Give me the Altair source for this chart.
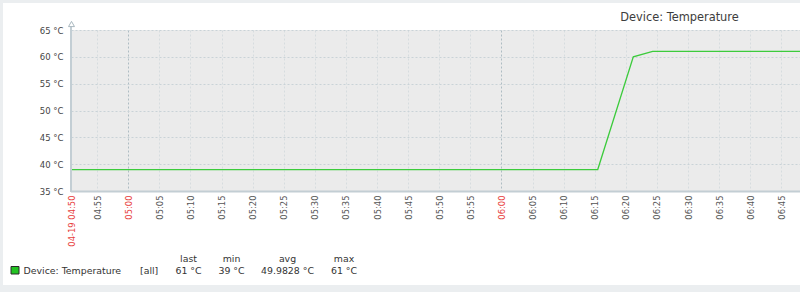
import altair as alt
import pandas as pd

# ---- data ----
times = ["04:50:48", "06:15:29", "06:21:12", "06:24:19", "06:48:00"]
temps = [39, 39, 60, 61, 61]

tick_times = ["04:50:48", "04:55", "05:00", "05:05", "05:10", "05:15", "05:20", "05:25",
              "05:30", "05:35", "05:40", "05:45", "05:50", "05:55", "06:00", "06:05",
              "06:10", "06:15", "06:20", "06:25", "06:30", "06:35", "06:40", "06:45"]
tick_labels = ["04-19 04:50", "04:55", "05:00", "05:05", "05:10", "05:15", "05:20", "05:25",
               "05:30", "05:35", "05:40", "05:45", "05:50", "05:55", "06:00", "06:05",
               "06:10", "06:15", "06:20", "06:25", "06:30", "06:35", "06:40", "06:45"]
y_ticks = [35, 40, 45, 50, 55, 60, 65]
x_start, x_end = "04:50:48", "06:48:00"

title_text = "Device: Temperature"
legend_name = "Device: Temperature"
legend_func = "[all]"
stat_names = ["last", "min", "avg", "max"]
stat_values = ["61 °C", "39 °C", "49.9828 °C", "61 °C"]


def to_min(s):
    parts = [float(p) for p in s.split(":")]
    while len(parts) < 3:
        parts.append(0.0)
    return round(parts[0] * 60 + parts[1] + parts[2] / 60, 3)


xs = [to_min(t) for t in times]
tick_vals = [to_min(t) for t in tick_times]
domain = [to_min(x_start), to_min(x_end)]

df = pd.DataFrame({"t": xs, "v": temps})

W, H = 729, 161
FONT = "DejaVu Sans"
RED = "#e8403d"
GRAY_TXT = "#555555"

label_expr = "[" + ",".join("'%s'" % l for l in tick_labels) + "][indexof([" + \
    ",".join(repr(v) for v in tick_vals) + "], datum.value)]"
red_test = "datum.value < %s || datum.value %% 60 == 0" % (tick_vals[0] + 0.5)

x_axis = alt.Axis(
    values=tick_vals, labelExpr=label_expr, labelAngle=270, labelFont=FONT,
    labelFontSize=8.4, labelPadding=4, ticks=False, domain=False,
    labelColor={"condition": {"test": red_test, "value": RED}, "value": GRAY_TXT},
    grid=True,
    gridColor={"condition": {"test": "datum.value % 60 == 0", "value": "#aebcc3"}, "value": "#d6dcdf"},
    gridDash=[2, 2], gridWidth=1, labelOverlap=False, labelBound=False, title=None,
)
y_axis = alt.Axis(
    values=y_ticks, labelExpr="datum.value + ' °C'", labelFont=FONT, labelFontSize=8.5,
    labelColor="#444444", labelPadding=8, ticks=False, domain=False, grid=True,
    gridColor="#c9d2d7", gridDash=[2, 2], title=None,
)

line = alt.Chart(df).mark_line(color="#3ccb3c", strokeWidth=1.3, clip=True).encode(
    x=alt.X("t:Q", scale=alt.Scale(domain=domain, nice=False, zero=False), axis=x_axis),
    y=alt.Y("v:Q", scale=alt.Scale(domain=[35, 65], nice=False, zero=False), axis=y_axis),
)

axis_col = "#c3ced4"
left_axis = alt.Chart().mark_rule(color=axis_col, strokeWidth=2).encode(
    x=alt.value(0), y=alt.value(-4), y2=alt.value(H + 1))
bottom_axis = alt.Chart().mark_rule(color=axis_col, strokeWidth=2).encode(
    x=alt.value(0), x2=alt.value(W), y=alt.value(H + 0.5))
arrow = alt.Chart().mark_point(shape="triangle-up", size=36, filled=True, fill="white",
                               stroke="#a9b8bf", strokeWidth=1, opacity=1).encode(
    x=alt.value(0.5), y=alt.value(-6))

title = alt.Chart().mark_text(font=FONT, fontSize=11.4, color="#3d3d3d", align="center",
                              baseline="alphabetic").encode(
    x=alt.value(608.5), y=alt.value(-9), text=alt.value(title_text))

# gray page border
border_col = "#ebeef0"
borders = [
    alt.Chart().mark_rect(color=border_col).encode(x=alt.value(-71), x2=alt.value(W), y=alt.value(-30), y2=alt.value(-27)),
    alt.Chart().mark_rect(color=border_col).encode(x=alt.value(-71), x2=alt.value(-68), y=alt.value(-30), y2=alt.value(H + 101)),
    alt.Chart().mark_rect(color=border_col).encode(x=alt.value(-71), x2=alt.value(W), y=alt.value(255), y2=alt.value(H + 101)),
]

# legend
legend_layers = [
    alt.Chart().mark_rect(color="#22c322", stroke="#2a2a2a", strokeWidth=1).encode(
        x=alt.value(-60), x2=alt.value(-52), y=alt.value(236.5), y2=alt.value(244)),
    alt.Chart().mark_text(font=FONT, fontSize=9.4, color="#333333", align="left", baseline="alphabetic").encode(
        x=alt.value(-47.5), y=alt.value(244), text=alt.value(legend_name)),
    alt.Chart().mark_text(font=FONT, fontSize=9.4, color="#333333", align="left", baseline="alphabetic").encode(
        x=alt.value(69), y=alt.value(244), text=alt.value(legend_func)),
]
stat_x = [117.5, 160.5, 216.5, 273]
for sx, name, val in zip(stat_x, stat_names, stat_values):
    legend_layers.append(alt.Chart().mark_text(font=FONT, fontSize=9.4, color="#333333", align="center",
                                               baseline="alphabetic").encode(
        x=alt.value(sx), y=alt.value(232), text=alt.value(name)))
    legend_layers.append(alt.Chart().mark_text(font=FONT, fontSize=9.4, color="#333333", align="center",
                                               baseline="alphabetic").encode(
        x=alt.value(sx), y=alt.value(244), text=alt.value(val)))

chart = alt.layer(line, left_axis, bottom_axis, arrow, title, *borders, *legend_layers).properties(
    width=W, height=H,
    autosize=alt.AutoSizeParams(type="none"),
    padding={"left": 71, "top": 30, "right": 0, "bottom": 101},
    background="white",
).configure_view(fill="#ebebeb", stroke=None)

chart.save("out.html", embed_options={"renderer": "svg", "actions": False})
